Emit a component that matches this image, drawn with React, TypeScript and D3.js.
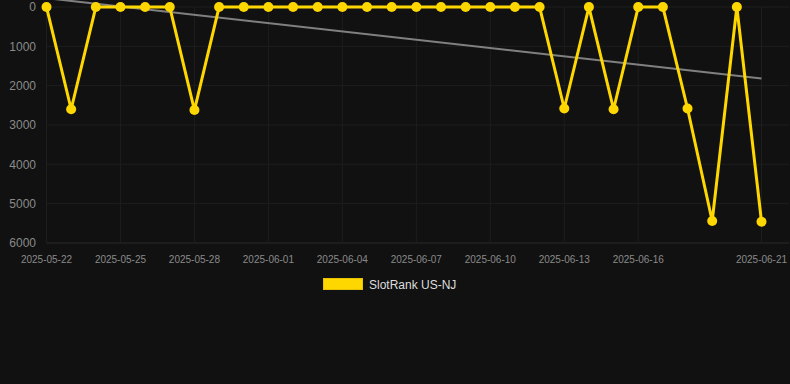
import React from "react";
import * as d3 from "d3";

const dates = [
  "2025-05-22","2025-05-23","2025-05-24","2025-05-25","2025-05-26","2025-05-27",
  "2025-05-28","2025-05-29","2025-05-30","2025-06-01","2025-06-02","2025-06-03",
  "2025-06-04","2025-06-05","2025-06-06","2025-06-07","2025-06-08","2025-06-09",
  "2025-06-10","2025-06-11","2025-06-12","2025-06-13","2025-06-14","2025-06-15",
  "2025-06-16","2025-06-17","2025-06-18","2025-06-19","2025-06-20","2025-06-21",
];
const ranks = [
  1, 2600, 1, 1, 1, 1,
  2620, 1, 1, 1, 1, 1,
  1, 1, 1, 1, 1, 1,
  1, 1, 1, 2580, 1, 2600,
  1, 1, 2580, 5440, 1, 5460,
];
const yTicks = [0, 1000, 2000, 3000, 4000, 5000, 6000];
const xTickLabels = [
  "2025-05-22","2025-05-25","2025-05-28","2025-06-01","2025-06-04",
  "2025-06-07","2025-06-10","2025-06-13","2025-06-16","2025-06-21",
];
const seriesName = "SlotRank US-NJ";

const W = 790, H = 384;
const left = 46.5, right = 761.5, top = 7, bottom = 243;
const font = "Liberation Sans, Arial, Helvetica, sans-serif";

export default function App() {
  const x = d3.scaleLinear().domain([0, dates.length - 1]).range([left, right]);
  const y = d3.scaleLinear().domain([0, 6000]).range([top, bottom]);

  // linear regression trend
  const n = ranks.length;
  const mx = d3.mean(ranks, (_, i) => i) as number;
  const my = d3.mean(ranks) as number;
  let sxy = 0, sxx = 0;
  ranks.forEach((v, i) => { sxy += (i - mx) * (v - my); sxx += (i - mx) * (i - mx); });
  const slope = sxy / sxx;
  const icpt = my - slope * mx;
  const trend: [number, number][] = [[0, icpt], [n - 1, icpt + slope * (n - 1)]];

  const line = d3.line<number>().x((_, i) => x(i)).y((v) => y(v));
  const tline = d3.line<[number, number]>().x((d) => x(d[0])).y((d) => y(d[1]));

  return (
    <svg width={W} height={H} style={{ position: "absolute", left: 0, top: 0, background: "#111111" }}>
      <rect x={0} y={0} width={W} height={H} fill="#111111" />
      {yTicks.map((t) => (
        <g key={t}>
          <line x1={left} x2={W - 1} y1={y(t)} y2={y(t)} stroke={t === 6000 ? "#2a2a2a" : "#1e1e1e"} strokeWidth={1} />
          <text x={36} y={y(t)} dy="0.35em" textAnchor="end" fill="#8a8a8a" fontSize={12} fontFamily={font}>{t}</text>
        </g>
      ))}
      {xTickLabels.map((lab) => {
        const i = dates.indexOf(lab);
        return (
          <g key={lab}>
            <line x1={x(i)} x2={x(i)} y1={top} y2={bottom} stroke="#1e1e1e" strokeWidth={1} />
            <text x={x(i)} y={259} dy="0.35em" textAnchor="middle" fill="#8a8a8a" fontSize={10} fontFamily={font}>{lab}</text>
          </g>
        );
      })}
      <path d={tline(trend) || ""} fill="none" stroke="#808080" strokeWidth={2} />
      <path d={line(ranks) || ""} fill="none" stroke="#FFD700" strokeWidth={3} strokeLinejoin="round" />
      {ranks.map((v, i) => (
        <circle key={i} cx={x(i)} cy={y(v)} r={5} fill="#FFD700" />
      ))}
      <rect x={323.5} y={278.5} width={39} height={11} fill="#FFD700" stroke="#e6c200" strokeWidth={1} />
      <text x={369} y={284.5} dy="0.35em" fill="#dddddd" fontSize={12} fontFamily={font}>{seriesName}</text>
    </svg>
  );
}
